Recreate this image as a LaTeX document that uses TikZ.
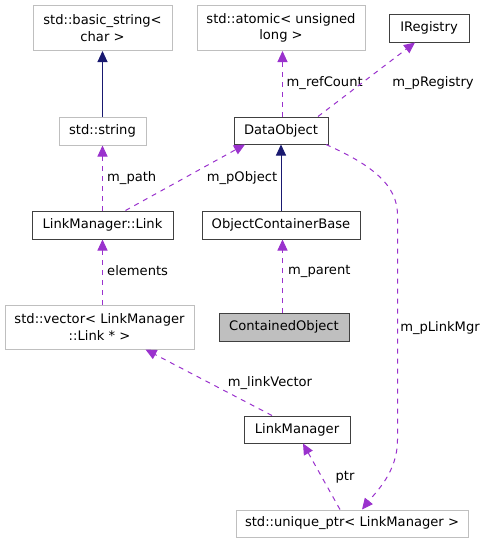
\documentclass[tikz,border=0pt]{standalone}
\usepackage{fontspec}
\setmainfont{DejaVu Sans}
\usetikzlibrary{arrows.meta,calc}
\definecolor{dep}{HTML}{9A32CD}
\definecolor{inh}{HTML}{191970}
\definecolor{gborder}{HTML}{BFBFBF}
\definecolor{bborder}{HTML}{404040}
\begin{document}
\begin{tikzpicture}[x=1pt,y=-1pt,
  font=\fontsize{13.1}{16.5}\selectfont,
  box/.style={draw=bborder,line width=1pt,inner sep=0pt,align=center,fill=white},
  gbox/.style={draw=gborder,line width=1pt,inner sep=0pt,align=center,fill=white},
  cbox/.style={draw=bborder,line width=1pt,inner sep=0pt,align=center,fill=gborder},
  inhline/.style={draw=inh,line width=1pt,-{Triangle[length=11pt,width=10pt]}},
  depline/.style={draw=dep,line width=1pt,dash pattern=on 5pt off 5pt,-{Triangle[length=11pt,width=10pt]}},
  lab/.style={text=black,inner sep=0pt}]
\useasboundingbox (0,0) rectangle (487,544);
\node[gbox,minimum width=139pt,minimum height=45pt] (bs) at (102.5,28) {std::basic\_string<\\char >};
\node[gbox,minimum width=87pt,minimum height=28pt] (str) at (102.5,131) {std::string};
\node[gbox,minimum width=168pt,minimum height=45pt] (atom) at (281,28) {std::atomic< unsigned\\long >};
\node[box,minimum width=80pt,minimum height=28pt] (ireg) at (429,28) {IRegistry};
\node[box,minimum width=94pt,minimum height=27pt] (dobj) at (281,130.5) {DataObject};
\node[box,minimum width=141pt,minimum height=28pt] (link) at (102.5,225) {LinkManager::Link};
\node[box,minimum width=158pt,minimum height=28pt] (ocb) at (281,225) {ObjectContainerBase};
\node[gbox,minimum width=189pt,minimum height=44pt] (vec) at (99.5,327) {std::vector< LinkManager\\::Link * >};
\node[cbox,minimum width=130pt,minimum height=28pt] (cont) at (284,327) {ContainedObject};
\node[box,minimum width=106pt,minimum height=27pt] (lm) at (297,429.5) {LinkManager};
\node[gbox,minimum width=232pt,minimum height=27pt] (uptr) at (352,523.5) {std::unique\_ptr< LinkManager >};

\draw[inhline] (str) -- (bs);
\draw[inhline] (ocb) -- (dobj);
\draw[depline] (link) -- (str);
\node[lab,anchor=west] (lpath) at (107,178) {m\_path};
\draw[depline] ($(link.north)+(23,0)$) -- ($(dobj.south)+(-36,0)$);
\node[lab] (lpo) at (242,178) {m\_pObject};
\draw[depline] ($(dobj.north)+(1.5,0)$) -- ($(atom.south)+(1.5,0)$);
\node[lab,anchor=west] (lrc) at (286.5,83) {m\_refCount};
\draw[depline] ($(dobj.north)+(37,0)$) -- ($(ireg.south)+(-14,0)$);
\node[lab] (lpr) at (433,83) {m\_pRegistry};
\draw[depline] ($(cont.north)+(-1.5,0)$) -- ($(ocb.south)+(1.5,0)$);
\node[lab,anchor=west] (lpar) at (288,271) {m\_parent};
\draw[depline] ($(vec.north)+(3,0)$) -- ($(link.south)+(0,0)$);
\node[lab,anchor=west] (lel) at (107,271) {elements};
\draw[depline] ($(lm.north)+(-25,0)$) -- ($(vec.south)+(46,0)$);
\node[lab] (llv) at (270,383) {m\_linkVector};
\draw[depline] ($(uptr.north)+(-12,0)$) -- ($(lm.south)+(6,0)$);
\node[lab] (lptr) at (345,477) {ptr};
\draw[depline] ($(dobj.south)+(45,0)$) .. controls (372,165) and (397.5,185) .. (397.5,215) -- (397.5,440) .. controls (397.5,472) and (376,492) .. ($(uptr.north)+(10,0)$);
\node[lab] (llm) at (440,328) {m\_pLinkMgr};
\end{tikzpicture}
\end{document}
